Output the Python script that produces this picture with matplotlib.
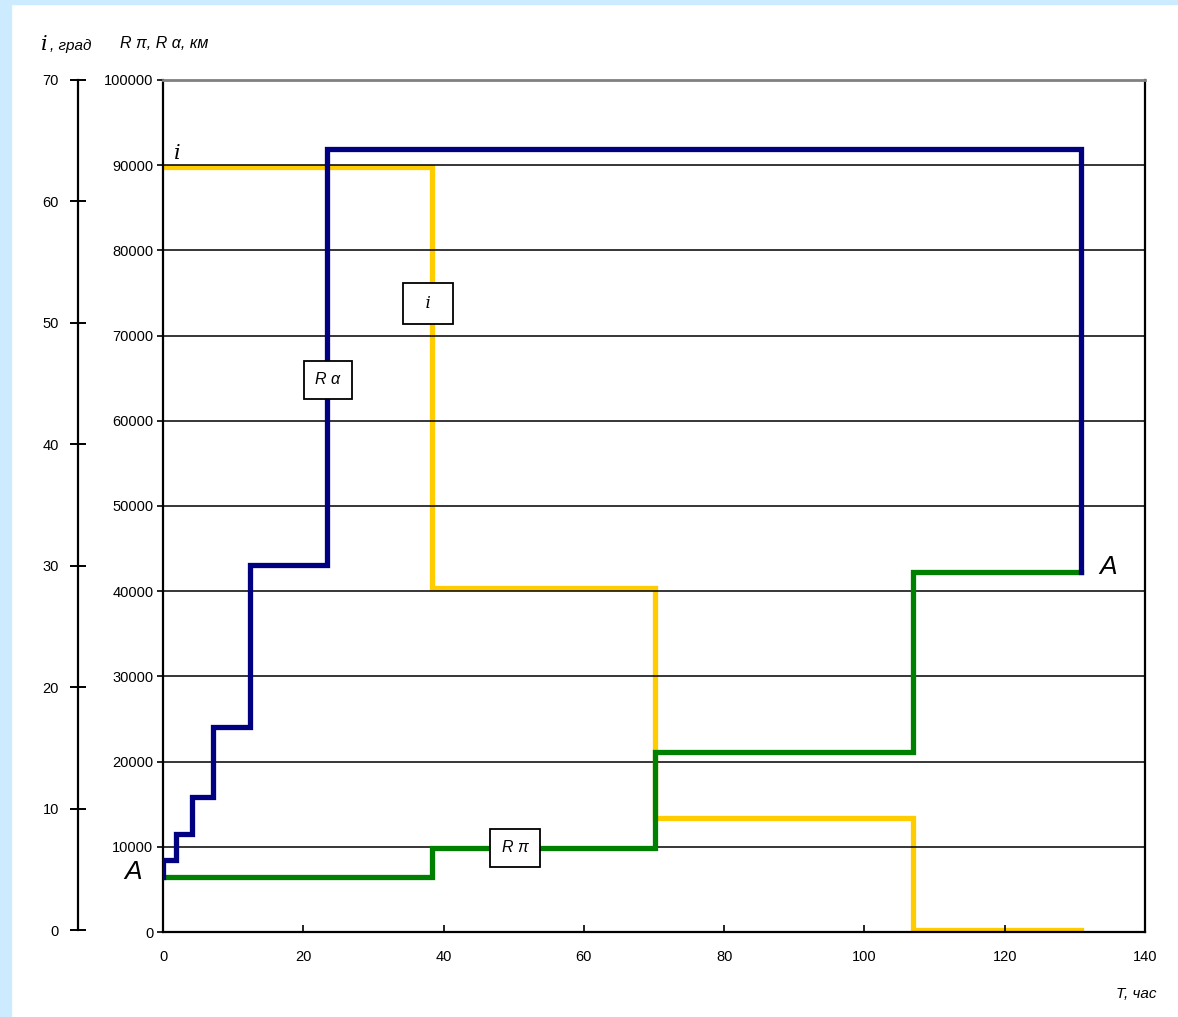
import matplotlib
matplotlib.use("Agg")
import matplotlib.pyplot as plt
from matplotlib.patches import Rectangle

plt.rcParams["font.family"] = ["Liberation Sans", "DejaVu Sans"]

# time, hours
t_ra = [0, 0, 1.9, 4.1, 7.1, 12.4, 23.4, 130.9, 130.9]
r_alpha = [6450, 8450, 11500, 15850, 24060, 43075, 91900, 91900, 42250]

t_rp = [0, 38.4, 70.1, 106.9, 130.9]
r_pi = [6450, 9860, 21100, 42250, 42250]

t_i = [0, 38.4, 70.1, 106.9, 130.9]
incl = [62.8, 28.2, 9.2, 0, 0]

x_ticks = [0, 20, 40, 60, 80, 100, 120, 140]
r_ticks = [0, 10000, 20000, 30000, 40000, 50000, 60000, 70000, 80000, 90000, 100000]
i_ticks = [0, 10, 20, 30, 40, 50, 60, 70]

W, H = 1178, 1017
fig = plt.figure(figsize=(W / 100, H / 100), dpi=100)
fig.patch.set_facecolor("white")
bg = "#cdebff"
fig.patches.append(Rectangle((0, 0), 11 / W, 1, transform=fig.transFigure, color=bg, zorder=-10))
fig.patches.append(Rectangle((0, 1 - 4 / H), 1, 4 / H, transform=fig.transFigure, color=bg, zorder=-10))

ax = fig.add_axes([163 / W, 1 - 932 / H, (1145 - 163) / W, (932 - 80) / H])
ax.set_xlim(0, 140)
ax.set_ylim(0, 100000)
ax.set_xticks(x_ticks)
ax.set_yticks(r_ticks)
ax.set_yticklabels([str(v) for v in r_ticks])
ax.tick_params(axis="x", direction="in", length=5, width=1.2, pad=13, labelsize=10.5)
ax.tick_params(axis="y", direction="out", length=4, width=1.2, pad=3, labelsize=10.5)
ax.grid(axis="y", color="black", linewidth=1.1)
ax.set_axisbelow(True)
for s in ["left", "bottom", "right"]:
    ax.spines[s].set_linewidth(1.6)
    ax.spines[s].set_color("black")
ax.spines["top"].set_color("#808080")
ax.spines["top"].set_linewidth(2)

lw = 3.8
ax.plot(t_rp, r_pi, drawstyle="steps-post", color="#008000", lw=lw, zorder=4, solid_joinstyle="miter")
ax.plot(t_ra, r_alpha, drawstyle="steps-post", color="#000080", lw=lw, zorder=5, solid_joinstyle="miter")

# inclination axis, drawn off to the left
ax2 = ax.twinx()
ax2.set_ylim(-0.16, 70)
ax2.set_xlim(0, 140)
ax2.plot(t_i, incl, drawstyle="steps-post", color="#ffcc00", lw=lw, zorder=3, solid_joinstyle="miter")
ax2.yaxis.set_ticks_position("left")
ax2.spines["right"].set_visible(False)
ax2.spines["top"].set_visible(False)
ax2.spines["bottom"].set_visible(False)
ax2.spines["left"].set_visible(True)
ax2.spines["left"].set_position(("outward", 61))
ax2.spines["left"].set_linewidth(1.6)
ax2.spines["left"].set_bounds(0, 70)
ax2.set_yticks(i_ticks)
ax2.tick_params(axis="y", direction="inout", length=12, width=1.4, pad=8, labelsize=10.5)
ax2.tick_params(axis="y", which="both", right=False, labelright=False, left=True, labelleft=True)

# yellow sits above the grid but below blue/green
ax.set_zorder(1)
ax2.set_zorder(0)
ax2.patch.set_visible(False)
ax.patch.set_visible(False)

# axis titles
fig.text(41 / W, 1 - 50 / H, "i", fontsize=15, style="italic", family=["DejaVu Serif"], ha="left", va="baseline")
fig.text(50 / W, 1 - 50 / H, ", град", fontsize=11, style="italic", ha="left", va="baseline")
fig.text(120 / W, 1 - 48 / H, "R π, R α, км", fontsize=11.5, style="italic", ha="left", va="baseline")
fig.text(1156 / W, 1 - 998 / H, "T, час", fontsize=11, style="italic", ha="right", va="baseline")

# in-plot labels
box = dict(boxstyle="square,pad=0.72", fc="white", ec="black", lw=1.3)
ax.text(23.5, 64800, "R α", fontsize=11.5, style="italic", ha="center", va="center", bbox=box, zorder=6)
ax.text(37.8, 73800, "  i  ", fontsize=12, style="italic", family=["DejaVu Serif"], ha="center", va="center", bbox=box, zorder=6)
ax.text(50.2, 9860, "R π", fontsize=11.5, style="italic", ha="center", va="center", bbox=box, zorder=6)
ax.text(1.5, 90700, "i", fontsize=15, style="italic", family=["DejaVu Serif"], ha="left", va="baseline", zorder=6)
ax.text(-4.3, 7100, "A", fontsize=19, style="italic", ha="center", va="center", clip_on=False, zorder=6)
ax.text(134.8, 42800, "A", fontsize=19, style="italic", ha="center", va="center", clip_on=False, zorder=6)

fig.savefig("out.png", dpi=100)
